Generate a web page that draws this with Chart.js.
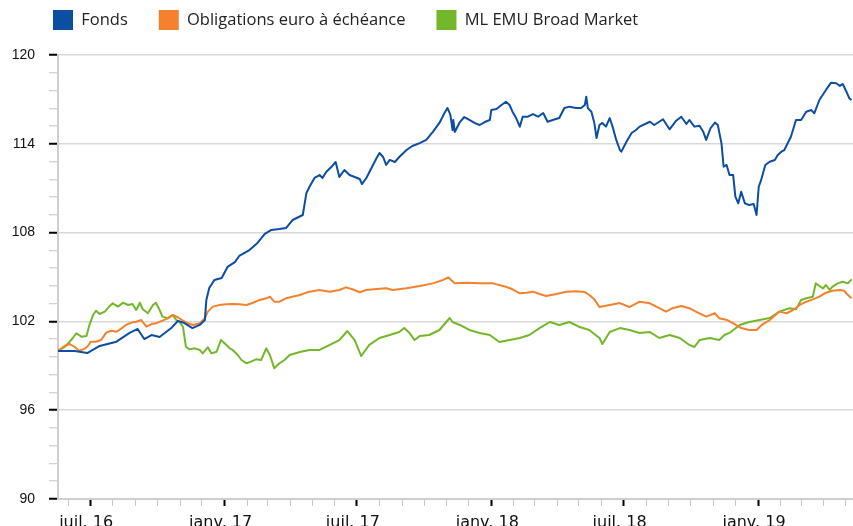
<!DOCTYPE html>
<html lang="fr">
<head>
<meta charset="utf-8">
<style>
  html, body { margin: 0; padding: 0; background: #fff; overflow: hidden; }
  #wrap { position: relative; width: 853px; height: 540px; }
</style>
<script src="https://cdn.jsdelivr.net/npm/chart.js@4.4.1/dist/chart.umd.min.js"></script>
</head>
<body>
<div id="wrap"><canvas id="chart"></canvas></div>
<script>
// x values are days counted from startDate
const startDate = '2016-05-18';
const endDay = 1088;

const seriesNames = ['Fonds', 'Obligations euro à échéance', 'ML EMU Broad Market'];
const seriesColors = ['#0c4ea2', '#f5812e', '#73b72a'];

const xTickDates = ['2016-07-01', '2017-01-01', '2017-07-01', '2018-01-01', '2018-07-01', '2019-01-01'];
const xTickLabels = ['juil. 16', 'janv. 17', 'juil. 17', 'janv. 18', 'juil. 18', 'janv. 19'];
const yTickLabels = [90, 96, 102, 108, 114, 120];

const fondsDays = [0, 23, 40, 57, 80, 98, 109, 118, 128, 139, 155, 164, 173, 184, 194, 201, 203, 207, 214, 224,
  232, 242, 248, 262, 273, 283, 292, 303, 312, 321, 335, 340, 344, 351, 358, 362, 367, 374, 380, 385,
  392, 399, 406, 413, 416, 422, 429, 436, 440, 445, 449, 454, 461, 467, 477, 485, 495, 504, 513, 522,
  529, 533, 537, 540, 541, 543, 550, 556, 563, 570, 577, 584, 591, 593, 600, 607, 613, 618, 622, 627,
  632, 636, 643, 650, 657, 664, 670, 677, 686, 693, 700, 709, 716, 721, 723, 725, 730, 734, 737, 741,
  745, 750, 755, 759, 764, 769, 771, 778, 785, 791, 796, 810, 816, 828, 837, 846, 853, 860, 864, 871,
  878, 883, 887, 893, 899, 903, 908, 911, 915, 919, 924, 927, 931, 935, 940, 946, 952, 956, 959, 962,
  968, 974, 981, 985, 990, 994, 1003, 1010, 1017, 1024, 1031, 1035, 1042, 1051, 1058, 1065, 1070, 1074, 1079, 1083,
  1086];
const fondsValues = [100.0, 100.0, 99.86, 100.34, 100.63, 101.22, 101.49, 100.81, 101.08, 100.95, 101.55, 102.03, 101.89, 101.55, 101.76, 102.09, 103.45, 104.26, 104.80, 104.93,
  105.68, 106.01, 106.42, 106.82, 107.30, 107.91, 108.18, 108.24, 108.31, 108.85, 109.19, 110.68, 111.08, 111.69, 111.89, 111.69, 112.09, 112.43, 112.77, 111.76,
  112.23, 111.89, 111.76, 111.62, 111.28, 111.69, 112.36, 113.04, 113.38, 113.11, 112.57, 112.91, 112.77, 113.11, 113.58, 113.85, 114.05, 114.26, 114.80, 115.41,
  116.08, 116.42, 115.95, 114.93, 115.61, 114.80, 115.47, 115.81, 115.61, 115.41, 115.27, 115.47, 115.61, 116.28, 116.35, 116.62, 116.84, 116.62, 116.17, 115.74,
  115.16, 115.83, 115.83, 116.01, 115.83, 116.08, 115.49, 115.61, 115.74, 116.42, 116.51, 116.42, 116.42, 116.62, 117.18, 116.42, 116.17, 115.41, 114.39, 115.27,
  115.41, 115.16, 115.74, 115.16, 114.26, 113.58, 113.47, 114.14, 114.73, 114.93, 115.16, 115.49, 115.27, 115.66, 114.98, 115.56, 115.83, 115.34, 115.61, 115.16,
  115.22, 114.82, 114.26, 115.05, 115.43, 115.27, 114.03, 112.45, 112.57, 111.89, 111.89, 110.43, 109.98, 110.76, 109.98, 109.86, 109.93, 109.19, 111.10, 111.51,
  112.57, 112.79, 112.91, 113.24, 113.47, 113.58, 114.48, 115.61, 115.61, 116.17, 116.28, 116.06, 116.96, 117.64, 118.13, 118.09, 117.91, 118.04, 117.52, 117.07,
  116.96];

const obligDays = [0, 9, 16, 23, 29, 36, 41, 45, 52, 59, 66, 73, 80, 87, 93, 100, 107, 114, 121, 128,
  134, 143, 150, 157, 164, 171, 178, 185, 194, 201, 205, 212, 221, 230, 239, 248, 258, 267, 276, 285,
  290, 296, 303, 312, 331, 344, 358, 372, 385, 394, 403, 413, 422, 436, 449, 458, 477, 495, 513, 527,
  534, 538, 543, 559, 577, 595, 613, 622, 632, 641, 650, 659, 668, 682, 696, 709, 721, 727, 734, 741,
  755, 769, 782, 796, 810, 823, 832, 841, 853, 864, 873, 887, 899, 905, 916, 926, 935, 946, 956, 963,
  974, 987, 997, 1006, 1015, 1024, 1033, 1042, 1051, 1060, 1070, 1076, 1081, 1086];
const obligValues = [100.0, 100.34, 100.47, 100.27, 100.02, 100.14, 100.34, 100.63, 100.63, 100.74, 101.24, 101.37, 101.30, 101.53, 101.76, 101.91, 101.98, 102.09, 101.64, 101.82,
  101.87, 102.05, 102.21, 102.43, 102.28, 102.05, 101.87, 101.76, 101.87, 102.21, 102.66, 103.00, 103.11, 103.16, 103.18, 103.16, 103.11, 103.26, 103.45, 103.56,
  103.67, 103.33, 103.33, 103.56, 103.78, 104.01, 104.12, 104.01, 104.12, 104.30, 104.17, 103.97, 104.12, 104.19, 104.24, 104.12, 104.24, 104.39, 104.57, 104.80,
  104.98, 104.80, 104.57, 104.61, 104.57, 104.57, 104.34, 104.17, 103.90, 103.94, 104.01, 103.85, 103.72, 103.85, 104.01, 104.03, 103.99, 103.78, 103.49, 102.97,
  103.11, 103.24, 102.97, 103.33, 103.22, 102.89, 102.66, 102.89, 103.04, 102.89, 102.66, 102.32, 102.55, 102.21, 102.09, 101.82, 101.55, 101.42, 101.42, 101.76,
  102.09, 102.66, 102.55, 102.77, 103.11, 103.33, 103.49, 103.67, 103.94, 104.07, 104.12, 104.07, 103.78, 103.56];

const emuDays = [0, 9, 16, 20, 25, 32, 39, 43, 48, 52, 57, 64, 70, 75, 82, 89, 96, 102, 107, 112,
  116, 123, 130, 134, 139, 143, 150, 157, 162, 166, 171, 175, 180, 187, 194, 198, 205, 210, 217, 223,
  228, 235, 239, 246, 251, 258, 264, 271, 278, 285, 290, 296, 303, 310, 317, 331, 344, 358, 372, 385,
  396, 406, 415, 426, 440, 454, 467, 474, 481, 488, 495, 508, 522, 536, 540, 550, 563, 577, 591, 604,
  618, 632, 645, 659, 673, 686, 700, 714, 727, 741, 745, 755, 769, 782, 796, 810, 823, 837, 851, 864,
  871, 878, 892, 905, 912, 919, 933, 946, 960, 974, 987, 1001, 1010, 1017, 1024, 1033, 1037, 1042, 1047, 1051,
  1056, 1060, 1067, 1074, 1081, 1086];
const emuValues = [100.0, 100.27, 100.63, 100.86, 101.20, 100.97, 101.01, 101.76, 102.43, 102.72, 102.50, 102.66, 103.00, 103.22, 103.00, 103.26, 103.11, 103.18, 102.77, 103.26,
  102.82, 102.55, 103.11, 103.26, 102.77, 102.32, 102.21, 102.43, 102.09, 101.98, 101.64, 100.29, 100.11, 100.18, 100.07, 99.84, 100.25, 99.84, 99.95, 100.74,
  100.52, 100.18, 100.07, 99.73, 99.39, 99.17, 99.28, 99.44, 99.39, 100.18, 99.73, 98.83, 99.17, 99.39, 99.73, 99.93, 100.07, 100.07, 100.41, 100.74,
  101.35, 100.74, 99.66, 100.41, 100.88, 101.08, 101.28, 101.55, 101.22, 100.74, 101.01, 101.08, 101.42, 102.23, 101.96, 101.76, 101.42, 101.22, 101.08, 100.61,
  100.74, 100.88, 101.08, 101.55, 101.96, 101.76, 101.96, 101.62, 101.42, 100.88, 100.47, 101.28, 101.55, 101.42, 101.22, 101.28, 100.88, 101.08, 100.88, 100.41,
  100.27, 100.74, 100.88, 100.74, 101.08, 101.22, 101.76, 101.96, 102.09, 102.23, 102.66, 102.89, 102.82, 103.45, 103.56, 103.67, 104.57, 104.39, 104.23, 104.46,
  104.12, 104.35, 104.57, 104.68, 104.57, 104.84];

const dayMs = 86400000;
const t0 = Date.parse(startDate);
const toDay = s => Math.round((Date.parse(s) - t0) / dayMs);

// first day of each month inside the axis range
const monthDays = [];
for (let y = 2016; y <= 2019; y++) {
  for (let m = 0; m < 12; m++) {
    const d = Math.round((Date.UTC(y, m, 1) - t0) / dayMs);
    if (d > 0 && d < endDay) monthDays.push(d);
  }
}
const majorDays = xTickDates.map(toDay);
const xLabelFor = d => {
  const i = majorDays.indexOf(d);
  return i >= 0 ? xTickLabels[i] : '';
};

const yTicks = [];
for (let i = 0; i <= 25; i++) yTicks.push(Math.round((90 + i * 1.2) * 10) / 10);
const isYMajor = v => yTickLabels.includes(v);

function makeSet(i, days, values) {
  return {
    label: seriesNames[i],
    data: days.map((d, k) => ({ x: d, y: values[k] })),
    borderColor: seriesColors[i],
    backgroundColor: seriesColors[i],
    borderWidth: 2,
    borderJoinStyle: 'round',
    pointRadius: 0,
    tension: 0,
    fill: false
  };
}

// legend sits a bit to the right of the canvas edge and leaves room above the plot
const legendPlacement = {
  id: 'legendPlacement',
  beforeInit(chart) {
    const fit = chart.legend.fit;
    chart.legend.fit = function () {
      fit.call(this);
      this.height = 55;
    };
  },
  afterLayout(chart) {
    const lg = chart.legend;
    lg.left += 22;
    lg.right += 22;
    lg.top -= 21;
  }
};

new Chart(document.getElementById('chart'), {
  type: 'line',
  data: {
    datasets: [
      makeSet(0, fondsDays, fondsValues),
      makeSet(1, obligDays, obligValues),
      makeSet(2, emuDays, emuValues)
    ]
  },
  plugins: [legendPlacement],
  options: {
    responsive: true,
    maintainAspectRatio: false,
    animation: false,
    layout: { padding: { left: 0, top: 0, right: 0, bottom: 11 } },
    plugins: {
      legend: {
        position: 'top',
        align: 'start',
        labels: {
          boxWidth: 20,
          boxHeight: 20,
          padding: 31,
          color: '#222',
          font: { family: 'Open Sans', size: 16.5 },
          generateLabels: chart => Chart.defaults.plugins.legend.labels.generateLabels(chart)
            .map(l => Object.assign(l, { lineWidth: 0 }))
        }
      },
      tooltip: { enabled: false }
    },
    scales: {
      x: {
        type: 'linear',
        min: 0,
        max: endDay,
        afterBuildTicks: s => { s.ticks = monthDays.map(v => ({ value: v })); },
        afterFit: s => { s.height = 30; },
        grid: {
          drawOnChartArea: false,
          tickLength: 7,
          tickColor: c => (c.tick && majorDays.includes(c.tick.value)) ? '#000' : '#c4c4c4',
          tickWidth: c => (c.tick && majorDays.includes(c.tick.value)) ? 2 : 1
        },
        border: { color: '#cfcfcf', width: 2 },
        ticks: {
          autoSkip: false,
          maxRotation: 0,
          padding: 7,
          labelOffset: -4,
          color: '#111',
          font: { family: 'DejaVu Sans', size: 16 },
          callback: v => xLabelFor(v)
        }
      },
      y: {
        min: 90,
        max: 120,
        afterBuildTicks: s => { s.ticks = yTicks.map(v => ({ value: v })); },
        afterFit: s => { s.width = 58; },
        grid: {
          color: c => (c.tick && isYMajor(c.tick.value)) ? '#d9d9d9' : 'rgba(0,0,0,0)',
          lineWidth: 1.5,
          tickLength: 9,
          tickColor: c => (c.tick && isYMajor(c.tick.value)) ? '#000' : '#c4c4c4',
          tickWidth: c => (c.tick && isYMajor(c.tick.value)) ? 2 : 1
        },
        border: { color: '#cfcfcf', width: 2 },
        ticks: {
          autoSkip: false,
          padding: 14,
          color: '#111',
          font: { family: 'Liberation Sans', size: 14 },
          callback: v => isYMajor(v) ? String(v) : ''
        }
      }
    }
  }
});
</script>
</body>
</html>
